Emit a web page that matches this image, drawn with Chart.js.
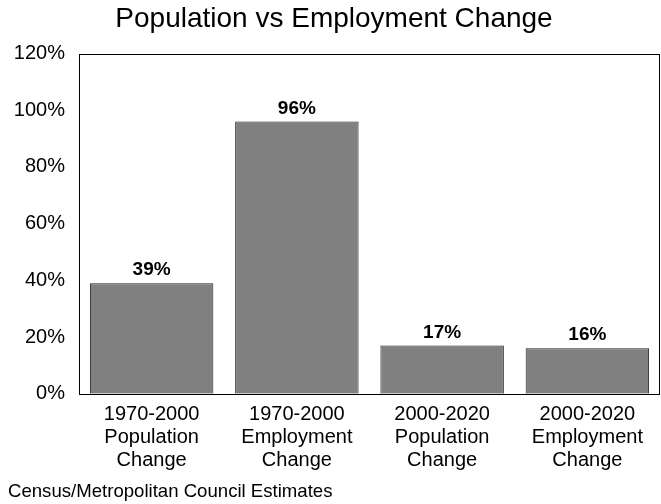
<!DOCTYPE html>
<html>
<head>
<meta charset="utf-8">
<script src="https://cdn.jsdelivr.net/npm/chart.js@4.4.0/dist/chart.umd.min.js"></script>
<style>
  html, body { margin: 0; padding: 0; background: #fff; }
  #wrap { width: 661px; height: 504px; }
</style>
</head>
<body>
<div id="wrap"><canvas id="changeChart"></canvas></div>
<script>
const categories = [
    ['1970-2000', 'Population', 'Change'],
    ['1970-2000', 'Employment', 'Change'],
    ['2000-2020', 'Population', 'Change'],
    ['2000-2020', 'Employment', 'Change']
];
const changePct = [39, 96, 17, 16];
const yTicks = [0, 20, 40, 60, 80, 100, 120];

// value labels over bars + box around plot area
const barLabels = {
    id: 'barLabels',
    afterDatasetsDraw(chart) {
        const ctx = chart.ctx;
        const meta = chart.getDatasetMeta(0);
        ctx.save();
        ctx.font = 'bold 19px "Liberation Sans", Arial, sans-serif';
        ctx.fillStyle = '#000';
        ctx.textAlign = 'center';
        ctx.textBaseline = 'alphabetic';
        meta.data.forEach(function(bar, i) {
            ctx.fillText(changePct[i] + '%', bar.x, bar.y - 8);
        });
        const a = chart.chartArea;
        ctx.strokeStyle = '#000';
        ctx.lineWidth = 1;
        ctx.strokeRect(Math.round(a.left) + 0.5, Math.round(a.top) + 0.5,
            Math.round(a.right - a.left) - 1, Math.round(a.bottom - a.top));
        ctx.restore();
    }
};

const ctx = document.getElementById('changeChart').getContext('2d');
new Chart(ctx, {
    type: 'bar',
    data: {
        labels: categories,
        datasets: [{
            data: changePct,
            backgroundColor: '#808080',
            borderColor: '#222',
            borderWidth: 1,
            barPercentage: 0.85,
            categoryPercentage: 1.0
        }]
    },
    options: {
        responsive: true,
        maintainAspectRatio: false,
        animation: false,
        layout: { padding: { left: 8, right: 1, top: 0, bottom: 1 } },
        plugins: {
            legend: { display: false },
            tooltip: { enabled: false },
            title: {
                display: true,
                text: 'Population vs Employment Change',
                color: '#000',
                font: { family: '"Liberation Sans", Arial, sans-serif', size: 28, weight: 'normal' },
                padding: { top: 2, bottom: 18 }
            },
            subtitle: {
                display: true,
                position: 'bottom',
                align: 'start',
                text: 'Census/Metropolitan Council Estimates',
                color: '#000',
                font: { family: '"Liberation Sans", Arial, sans-serif', size: 18.6, weight: 'normal' },
                padding: { top: 0, bottom: 0 }
            }
        },
        scales: {
            x: {
                grid: { display: false, drawTicks: false },
                border: { display: false },
                ticks: {
                    color: '#000',
                    font: { family: '"Liberation Sans", Arial, sans-serif', size: 20, lineHeight: 1.15 },
                    padding: 9,
                    maxRotation: 0,
                    autoSkip: false
                }
            },
            y: {
                min: 0,
                max: 120,
                afterBuildTicks(axis) {
                    axis.ticks = yTicks.map(function(v) { return { value: v }; });
                },
                afterFit(axis) {
                    axis.width = 71;
                },
                grid: { display: false, drawTicks: false },
                border: { display: false },
                ticks: {
                    color: '#000',
                    font: { family: '"Liberation Sans", Arial, sans-serif', size: 20 },
                    padding: 14,
                    callback: function(v) { return v + '%'; }
                }
            }
        }
    },
    plugins: [barLabels]
});
</script>
</body>
</html>
